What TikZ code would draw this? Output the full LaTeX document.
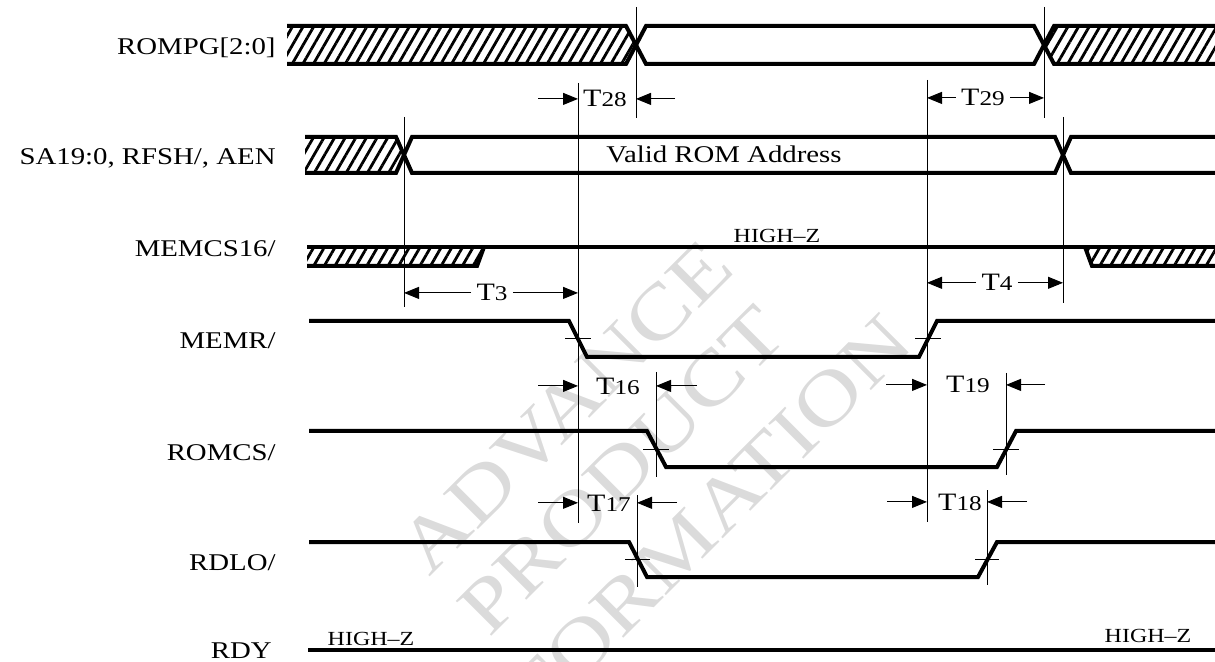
\documentclass[tikz,border=0pt]{standalone}
\usepackage{fontspec}
\setmainfont[FakeStretch=1.2]{Liberation Serif}
\usetikzlibrary{arrows.meta,calc,patterns.meta}

\newcommand{\tsub}[1]{T{\fontsize{10.5}{12}\selectfont #1}}

\begin{document}
\begin{tikzpicture}[
    x=0.5pt, y=-0.5pt,
    sig/.style={line width=2pt, line join=miter},
    guide/.style={line width=0.5pt},
    tickln/.style={line width=0.5pt},
    dim/.style={line width=0.5pt, -{Triangle[length=7.5pt,width=6pt]}},
    hatch/.style={pattern={Lines[angle=60,distance=4.6pt,line width=1.4pt]}},
    lbl/.style={anchor=base east, inner sep=0pt, font=\fontsize{12}{14}\selectfont},
    hiz/.style={anchor=base, inner sep=0pt, font=\fontsize{10}{12}\selectfont},
    tlab/.style={anchor=base, inner sep=2.5pt, font=\fontsize{12.5}{14}\selectfont},
    wmark/.style={rotate=45, text=gray!28, inner sep=0pt, font=\fontsize{38}{40}\selectfont}
]
    \useasboundingbox (0,0) rectangle (1215,662);

    % 1. Filigrana
    \node[wmark] (wmA) at (566,407) {ADVANCE};
    \node[wmark] (wmP) at (622,470) {PRODUCT};
    \node[wmark] (wmI) at (676,551) {INFORMATION};

    % 2. Istanti di riferimento
    \coordinate (tSA)   at (404,0);
    \coordinate (tRD)   at (578,0);
    \coordinate (tPG)   at (636,0);
    \coordinate (tLOf)  at (637,0);
    \coordinate (tCSf)  at (656,0);
    \coordinate (tRU)   at (927,0);
    \coordinate (tLOr)  at (987,0);
    \coordinate (tCSr)  at (1006,0);
    \coordinate (tPGe)  at (1044,0);
    \coordinate (tSAe)  at (1063,0);

    % 3. Nomi dei segnali
    \node[lbl] (nPG)   at (276,55)  {ROMPG[2:0]};
    \node[lbl] (nSA)   at (276,165) {SA19:0, RFSH/, AEN};
    \node[lbl] (nCS16) at (276,257) {MEMCS16/};
    \node[lbl] (nMR)   at (276,349) {MEMR/};
    \node[lbl] (nCS)   at (276,460) {ROMCS/};
    \node[lbl] (nLO)   at (276,570) {RDLO/};
    \node[lbl] (nRDY)  at (272,658) {RDY};

    % --- ROMPG[2:0] ---
    \fill[hatch] (287,26) -- (626,26) -- (636,45) -- (626,64) -- (287,64) -- cycle;
    \fill[hatch] (1215,26) -- (1054,26) -- (1044,45) -- (1054,64) -- (1215,64) -- cycle;
    \draw[sig] (287,26) -- (626,26) -- (646,64) -- (1034,64) -- (1054,26) -- (1215,26);
    \draw[sig] (287,64) -- (626,64) -- (646,26) -- (1034,26) -- (1054,64) -- (1215,64);

    % --- SA19:0, RFSH/, AEN ---
    \fill[hatch] (305,137) -- (396,137) -- (404,155) -- (396,173) -- (305,173) -- cycle;
    \draw[sig] (305,137) -- (396,137) -- (412,173) -- (1055,173) -- (1071,137) -- (1215,137);
    \draw[sig] (305,173) -- (396,173) -- (412,137) -- (1055,137) -- (1071,173) -- (1215,173);
    \node[lbl, anchor=base] (valid) at (724,163) {Valid ROM Address};

    % --- MEMCS16/ ---
    \fill[hatch] (307,247) -- (484,247) -- (477,266) -- (307,266) -- cycle;
    \fill[hatch] (1085,247) -- (1092,266) -- (1215,266) -- (1215,247) -- cycle;
    \draw[sig] (307,247) -- (1215,247);
    \draw[sig] (484,247) -- (477,266) -- (307,266);
    \draw[sig] (1085,247) -- (1092,266) -- (1215,266);
    \node[hiz] (hzCS16) at (777,243) {HIGH--Z};

    % --- MEMR/, ROMCS/, RDLO/, RDY ---
    \draw[sig] (309,321) -- (569,321) -- (587,357) -- (919,357) -- (937,321) -- (1215,321);
    \draw[sig] (309,431) -- (647,431) -- (666,467) -- (997,467) -- (1016,431) -- (1215,431);
    \draw[sig] (309,542) -- (629,542) -- (647,577) -- (978,577) -- (997,542) -- (1215,542);
    \draw[sig] (308,650) -- (1215,650);
    \node[hiz] (hzRDYa) at (371,645)  {HIGH--Z};
    \node[hiz] (hzRDYb) at (1148,642) {HIGH--Z};

    % tacche a meta' fronte
    \draw[tickln] (565,339) -- (591,339);
    \draw[tickln] (915,339) -- (941,339);
    \draw[tickln] (643,449) -- (669,449);
    \draw[tickln] (993,449) -- (1019,449);
    \draw[tickln] (625,559) -- (650,559);
    \draw[tickln] (975,559) -- (999,559);

    % 4. Linee verticali di riferimento
    \draw[guide] (636,7) -- (636,118);
    \draw[guide] (1044,7) -- (1044,118);
    \draw[guide] (404,117) -- (404,307);
    \draw[guide] (1063,117) -- (1063,303);
    \draw[guide] (578,83) -- (578,523);
    \draw[guide] (927,80) -- (927,522);
    \draw[guide] (656,372) -- (656,477);
    \draw[guide] (1006,373) -- (1006,475);
    \draw[guide] (637,495) -- (637,587);
    \draw[guide] (987,490) -- (987,585);

    % 5. Quote temporali
    \node[tlab] (T28) at (605,107) {\tsub{28}};
    \draw[dim] ($(tRD |- T28)+(-40,0)$) -- (tRD |- T28);
    \draw[dim] ($(tPG |- T28)+(39,0)$) -- (tPG |- T28);

    \node[tlab] (T29) at (983,106) {\tsub{29}};
    \draw[dim] (T29.west) -- (tRU |- T29);
    \draw[dim] (T29.east) -- (tPGe |- T29);

    \node[tlab] (T3) at (492,301) {\tsub{3}};
    \draw[dim] (T3.west) -- (tSA |- T3);
    \draw[dim] (T3.east) -- (tRD |- T3);

    \node[tlab] (T4) at (997,291) {\tsub{4}};
    \draw[dim] (T4.west) -- (tRU |- T4);
    \draw[dim] (T4.east) -- (tSAe |- T4);

    \node[tlab] (T16) at (618,394) {\tsub{16}};
    \draw[dim] ($(tRD |- T16)+(-40,0)$) -- (tRD |- T16);
    \draw[dim] ($(tCSf |- T16)+(41,0)$) -- (tCSf |- T16);

    \node[tlab] (T19) at (968,393) {\tsub{19}};
    \draw[dim] ($(tRU |- T19)+(-41,0)$) -- (tRU |- T19);
    \draw[dim] ($(tCSr |- T19)+(39,0)$) -- (tCSr |- T19);

    \node[tlab] (T17) at (609,511) {\tsub{17}};
    \draw[dim] ($(tRD |- T17)+(-40,0)$) -- (tRD |- T17);
    \draw[dim] ($(tLOf |- T17)+(40,0)$) -- (tLOf |- T17);

    \node[tlab] (T18) at (960,510) {\tsub{18}};
    \draw[dim] ($(tRU |- T18)+(-40,0)$) -- (tRU |- T18);
    \draw[dim] ($(tLOr |- T18)+(40,0)$) -- (tLOr |- T18);

\end{tikzpicture}
\end{document}
